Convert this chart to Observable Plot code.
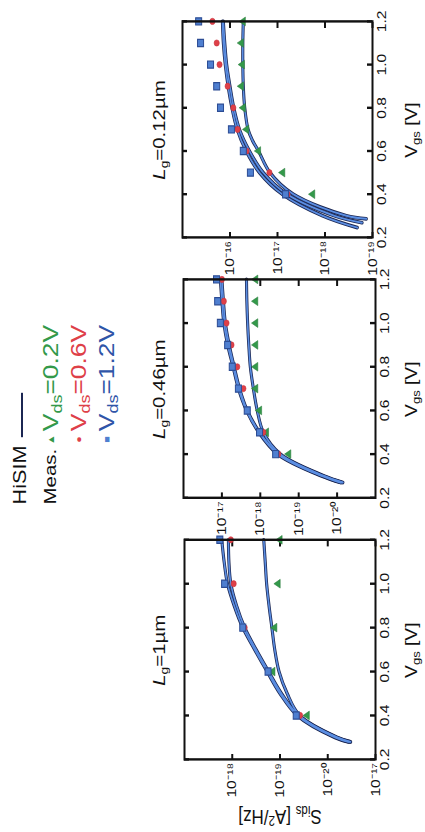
<!DOCTYPE html>
<html><head><meta charset="utf-8">
<script src="https://cdn.jsdelivr.net/npm/d3@7"></script>
<script src="https://cdn.jsdelivr.net/npm/@observablehq/plot@0.6"></script>
<style>
html,body{margin:0;padding:0;background:#fff;overflow:hidden;width:425px;height:832px}
#stage{position:absolute;left:0;top:0;width:694px;height:425px;transform-origin:0 0;
  transform:translate(0,832px) rotate(-90deg) scale(1.2,1);
  font-family:"Liberation Sans",Arial,Helvetica,sans-serif;color:#111}
.t{position:absolute;white-space:nowrap;line-height:1}
sub{font-size:0.68em;vertical-align:-0.28em;line-height:0}
sup{font-size:0.68em;vertical-align:0.45em;line-height:0}
svg{position:absolute;overflow:visible}
</style></head><body><div id="stage"></div>
<script>
// ---------- DATA (exponents are log10 of S_ids in A^2/Hz) ----------
const lgLabels = ["1µm", "0.46µm", "0.12µm"];
const vdsLabels = ["0.2", "0.6", "1.2"];
const xTicks = [0.2, 0.4, 0.6, 0.8, 1.0, 1.2];

// y tick exponents and their printed labels per panel
const yTickExp1 = [-18, -19, -20, -21];
const yTickLab1 = ["10⁻¹⁸", "10⁻¹⁹", "10⁻²⁰", "10⁻¹⁷"];
const yTickExp2 = [-17, -18, -19, -20];
const yTickLab2 = ["10⁻¹⁷", "10⁻¹⁸", "10⁻¹⁹", "10⁻²⁰"];
const yTickExp3 = [-16, -17, -18, -19];
const yTickLab3 = ["10⁻¹⁶", "10⁻¹⁷", "10⁻¹⁸", "10⁻¹⁹"];
const yDomainExp1 = [-21, -17];
const yDomainExp2 = [-21, -16];
const yDomainExp3 = [-19, -15];

// Lg = 1 µm : measurements
const measVgs1 = [0.4, 0.6, 0.8, 1.0, 1.2];
const meas1Vds02 = [-19.57, -18.85, -18.89, -18.96, -19.0];
const meas1Vds06 = [-19.42, -18.75, -18.26, -18.03, -17.97];
const meas1Vds12 = [-19.34, -18.75, -18.22, -17.84, -17.74];
// Lg = 1 µm : HiSIM
const simVgs1 = [0.28, 0.3, 0.4, 0.5, 0.6, 0.7, 0.8, 0.9, 1.0, 1.1, 1.2];
const sim1Vds02 = [-20.48, -20.2, -19.41, -19.15, -18.98, -18.89, -18.83, -18.77, -18.72, -18.69, -18.66];
const sim1Vds06 = [-20.46, -20.18, -19.39, -19.03, -18.76, -18.5, -18.26, -18.09, -17.97, -17.93, -17.92];
const sim1Vds12 = [-20.43, -20.15, -19.36, -19.0, -18.73, -18.47, -18.22, -18.04, -17.9, -17.83, -17.78];

// Lg = 0.46 µm : measurements
const measVgs2 = [0.4, 0.5, 0.6, 0.7, 0.8, 0.9, 1.0, 1.1, 1.2];
const meas2Vds02 = [-18.74, -18.16, -17.98, -17.88, -17.88, -17.88, -17.88, -17.88, -17.88];
const meas2Vds06 = [-18.47, -18.08, -17.66, -17.56, -17.40, -17.25, -17.12, -17.05, -17.00];
const meas2Vds12 = [-18.40, -17.98, -17.66, -17.43, -17.27, -17.15, -16.96, -16.89, -16.86];
// Lg = 0.46 µm : HiSIM
const simVgs2 = [0.27, 0.3, 0.4, 0.5, 0.6, 0.7, 0.8, 0.9, 1.0, 1.1, 1.2];
const sim2Vds02 = [-20.15, -19.66, -18.52, -18.08, -17.92, -17.82, -17.74, -17.70, -17.67, -17.65, -17.64];
const sim2Vds06 = [-20.12, -19.63, -18.48, -17.98, -17.66, -17.46, -17.32, -17.19, -17.09, -17.04, -17.00];
const sim2Vds12 = [-20.09, -19.60, -18.45, -17.96, -17.64, -17.43, -17.29, -17.15, -17.05, -17.00, -16.96];

// Lg = 0.12 µm : measurements
const measVgs3 = [0.4, 0.5, 0.6, 0.7, 0.8, 0.9, 1.0, 1.1, 1.2];
const meas3Vds02 = [-17.74, -17.11, -16.60, -16.35, -16.28, -16.24, -16.26, -16.24, -16.28];
const meas3Vds06 = [-17.21, -16.83, -16.35, -16.16, -16.07, -15.95, -15.78, -15.72, -15.63];
const meas3Vds12 = [-17.17, -16.43, -16.28, -16.03, -15.80, -15.72, -15.59, -15.38, -15.34];
// Lg = 0.12 µm : HiSIM
const simVgs3Vds02 = [0.286, 0.3, 0.4, 0.5, 0.6, 0.65, 0.7, 0.8, 0.9, 1.0, 1.1, 1.2];
const sim3Vds02 = [-18.87, -18.45, -17.33, -16.84, -16.6, -16.47, -16.38, -16.31, -16.28, -16.27, -16.27, -16.28];
const simVgs3Vds06 = [0.268, 0.3, 0.4, 0.5, 0.6, 0.7, 0.8, 0.9, 1.0, 1.1, 1.2];
const sim3Vds06 = [-18.78, -18.2, -17.2, -16.7, -16.41, -16.2, -16.08, -16.0, -15.93, -15.89, -15.86];
const simVgs3Vds12 = [0.245, 0.3, 0.4, 0.5, 0.6, 0.7, 0.8, 0.9, 1.0, 1.1, 1.2];
const sim3Vds12 = [-18.68, -17.95, -17.1, -16.62, -16.34, -16.15, -16.04, -15.96, -15.9, -15.86, -15.84];

// ---------- STYLE / LAYOUT ----------
const colGreen = "#33994a", colRed = "#de4048", colBlue = "#4f7fd0";
const lineDark = "#1b2652", lineBlue = "#5b8ee2";
const FONT = "'Liberation Sans', Arial, Helvetica, sans-serif";
const frames = [
  {u0: 60, u1: 243, v0: 184, v1: 375},
  {u0: 278, u1: 460, v0: 183, v1: 375},
  {u0: 495, u1: 675, v0: 182, v1: 372}
];
const mL = 55, mR = 12, mT = 50, mB = 45;

const toPts = (xs, es) => xs.map((x, i) => ({vgs: x, s: Math.pow(10, es[i])}));

const panels = [
  {yDom: yDomainExp1, yExp: yTickExp1, yLab: yTickLab1,
   meas: [[measVgs1, meas1Vds02], [measVgs1, meas1Vds06], [measVgs1, meas1Vds12]],
   sim: [[simVgs1, sim1Vds02], [simVgs1, sim1Vds06], [simVgs1, sim1Vds12]]},
  {yDom: yDomainExp2, yExp: yTickExp2, yLab: yTickLab2,
   meas: [[measVgs2, meas2Vds02], [measVgs2, meas2Vds06], [measVgs2, meas2Vds12]],
   sim: [[simVgs2, sim2Vds02], [simVgs2, sim2Vds06], [simVgs2, sim2Vds12]]},
  {yDom: yDomainExp3, yExp: yTickExp3, yLab: yTickLab3,
   meas: [[measVgs3, meas3Vds02], [measVgs3, meas3Vds06], [measVgs3, meas3Vds12]],
   sim: [[simVgs3Vds02, sim3Vds02], [simVgs3Vds06, sim3Vds06], [simVgs3Vds12, sim3Vds12]]}
];

const stage = document.getElementById("stage");

function addText(html, u, v, fontSize, align = "center", extra = "") {
  const d = document.createElement("div");
  d.className = "t";
  d.innerHTML = html;
  const tx = align === "center" ? "-50%" : (align === "right" ? "-100%" : "0");
  d.style.cssText = `left:${u}px;top:${v}px;font-size:${fontSize}px;transform:translate(${tx},-50%) ${extra};`;
  stage.appendChild(d);
  return d;
}

panels.forEach((p, i) => {
  const f = frames[i];
  const fw = f.u1 - f.u0, fh = f.v1 - f.v0;
  const yTicks = p.yExp.map(e => Math.pow(10, e));
  const yFmt = d => p.yLab[p.yExp.indexOf(Math.round(Math.log10(d)))];
  const marks = [
    Plot.axisX({ticks: xTicks, tickSize: 0, tickPadding: 4, tickFormat: d => d.toFixed(1), label: null}),
    Plot.axisY({ticks: yTicks, tickSize: 0, tickPadding: 3, tickFormat: yFmt, label: null}),
    Plot.tickX(xTicks, {x: d => d, insetTop: fh - 5, stroke: "#111", strokeWidth: 2}),
    Plot.tickX(xTicks, {x: d => d, insetBottom: fh - 5, stroke: "#111", strokeWidth: 2}),
    Plot.tickY(yTicks, {y: d => d, insetRight: fw - 5, stroke: "#111", strokeWidth: 2}),
    Plot.tickY(yTicks, {y: d => d, insetLeft: fw - 5, stroke: "#111", strokeWidth: 2})
  ];
  // HiSIM curves: dark casing then blue core
  p.sim.forEach(([xs, es]) => {
    marks.push(Plot.line(toPts(xs, es), {x: "vgs", y: "s", curve: "catmull-rom", stroke: lineDark, strokeWidth: 3.1}));
  });
  p.sim.forEach(([xs, es]) => {
    marks.push(Plot.line(toPts(xs, es), {x: "vgs", y: "s", curve: "catmull-rom", stroke: lineBlue, strokeWidth: 1.6}));
  });
  // measurements
  marks.push(Plot.dot(toPts(...p.meas[0]), {x: "vgs", y: "s", symbol: "triangle", r: 2.7, fill: colGreen, stroke: "#2a7a3a", strokeWidth: 0.5}));
  marks.push(Plot.dot(toPts(...p.meas[1]), {x: "vgs", y: "s", symbol: "circle", r: 2.6, fill: colRed, stroke: "#c8303a", strokeWidth: 0.5}));
  marks.push(Plot.dot(toPts(...p.meas[2]), {x: "vgs", y: "s", symbol: "square", r: 3.4, fill: colBlue, stroke: "#2c4c94", strokeWidth: 1}));
  marks.push(Plot.frame({stroke: "#111", strokeWidth: 2}));

  const chart = Plot.plot({
    width: mL + fw + mR, height: mT + fh + mB,
    marginLeft: mL, marginRight: mR, marginTop: mT, marginBottom: mB,
    style: {fontFamily: FONT, fontSize: "13px", color: "#111", background: "transparent", overflow: "visible"},
    x: {domain: [0.2, 1.2]},
    y: {type: "log", domain: p.yDom.map(e => Math.pow(10, e))},
    marks
  });
  chart.style.left = (f.u0 - mL) + "px";
  chart.style.top = (f.v0 - mT) + "px";
  stage.appendChild(chart);

  // panel title and x label
  addText(`<i>L</i><sub>g</sub>=${lgLabels[i]}`, (f.u0 + f.u1) / 2, 159, 17);
  addText(`V<sub>gs</sub> [V]`, (f.u0 + f.u1) / 2, 412, 16);
});

// y label (first panel only)
addText(`S<sub>ids</sub> [A<sup>2</sup>/Hz]`, 13, 280, 17, "center", "rotate(-90deg)");

// legend
const legU = 273, symU = 327, txtU = 334;
addText(`HiSIM`, legU, 20, 18, "left");
const hl = document.createElement("div");
hl.style.cssText = `position:absolute;left:329px;top:21px;width:37px;height:0;border-top:2px solid ${lineDark};`;
stage.appendChild(hl);
addText(`Meas.`, legU, 50, 17, "left");
const legCols = [colGreen, colRed, "#2f55a8"];
const legSym = ["▲", "●", "■"];
const legRows = [51, 79, 107];
vdsLabels.forEach((lab, i) => {
  addText(`<span style="color:${[colGreen, colRed, colBlue][i]}">${legSym[i]}</span>`, symU, legRows[i], 9, "center");
  addText(`<span style="color:${legCols[i]}">V<sub>ds</sub>=${lab}V</span>`, txtU, legRows[i], 22, "left");
});
</script></body></html>
